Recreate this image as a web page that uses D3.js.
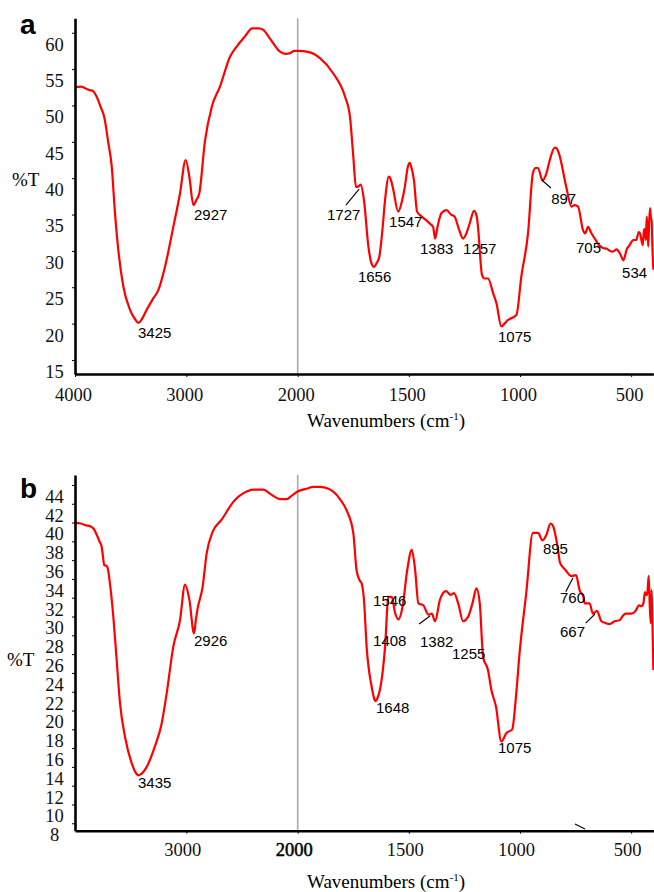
<!DOCTYPE html>
<html>
<head>
<meta charset="utf-8">
<script src="https://cdn.jsdelivr.net/npm/d3@7"></script>
<style>
  body { margin: 0; background: #fff; }
</style>
</head>
<body>
<div id="main"></div>
<script>
// wavenumber (cm-1), %T
const spectrumA = [
  [4000,52.5],[3950,52.6],[3900,52.3],[3865,52.1],[3840,52.0],[3805,51.2],[3770,49.8],[3739,48.5],
  [3700,44.8],[3670,41.6],[3641,35.2],[3611,30.1],[3566,25.1],[3506,21.9],[3460,20.6],[3431,20.1],
  [3400,20.6],[3356,21.9],[3300,23.4],[3252,24.6],[3192,27.8],[3117,33.3],[3057,37.9],[3006,42.5],
  [2973,40.2],[2937,36.3],[2910,37.0],[2884,37.9],[2832,45.2],[2772,49.8],[2698,52.6],[2608,56.7],
  [2548,58.1],[2473,59.5],[2408,60.6],[2350,60.6],[2309,60.4],[2249,59.2],[2159,57.4],[2110,57.1],
  [2069,57.2],[2030,57.5],[2000,57.5],[1945,57.3],[1900,56.5],[1840,54.4],[1787,51.2],[1765,48.5],
  [1750,43.0],[1738,38.8],[1725,38.9],[1717,39.1],[1702,37.0],[1682,30.6],[1667,28.2],[1657,27.8],
  [1645,28.3],[1633,29.2],[1620,32.5],[1607,37.0],[1590,40.2],[1580,39.7],[1570,38.4],[1548,35.4],
  [1530,37.0],[1518,38.8],[1505,41.5],[1496,42.1],[1487,41.3],[1477,39.7],[1463,35.4],[1445,34.8],
  [1421,34.2],[1400,33.6],[1391,33.3],[1382,31.7],[1370,33.5],[1353,35.2],[1331,35.6],[1310,35.0],
  [1294,34.7],[1275,33.0],[1256,31.7],[1240,32.5],[1226,33.8],[1207,35.5],[1195,34.8],[1189,33.3],
  [1171,26.7],[1160,26.2],[1144,26.2],[1121,24.2],[1106,22.8],[1084,19.6],[1070,20.0],[1054,20.5],
  [1035,20.8],[1016,21.2],[994,26.5],[964,32.4],[942,40.7],[930,41.4],[919,41.4],[899,39.7],
  [881,40.7],[866,42.5],[844,44.2],[835,44.1],[825,43.4],[792,38.8],[769,36.1],[755,36.3],
  [739,36.1],[717,32.9],[707,32.4],[694,33.3],[680,32.5],[664,31.7],[645,30.8],[627,30.4],
  [610,30.3],[595,30.0],[582,29.9],[565,30.2],[550,29.6],[535,28.7],[520,30.2],[507,30.8],
  [490,31.5],[477,31.5],[466,32.6],[460,32.4],[448,30.8],[442,33.0],[438,32.9],[434,31.5],
  [430,34.7],[426,32.5],[423,30.6],[419,34.0],[415,35.9],[411,34.5],[408,34.2],[404,30.0],[400,27.4]
];

const spectrumB = [
  [4000,40.0],[3950,39.9],[3900,39.7],[3865,39.6],[3830,39.3],[3805,38.7],[3780,38.0],[3760,37.4],
  [3745,36.0],[3739,35.5],[3720,35.4],[3710,35.3],[3686,33.5],[3656,30.0],[3626,25.4],[3596,20.8],
  [3551,17.2],[3491,14.4],[3450,13.3],[3430,13.1],[3410,13.2],[3356,14.0],[3282,16.2],[3222,18.6],
  [3177,21.8],[3117,26.8],[3057,29.6],[3012,33.4],[2973,31.8],[2931,28.2],[2915,29.6],[2901,30.7],
  [2853,33.2],[2818,36.7],[2764,39.0],[2683,40.3],[2578,42.2],[2458,43.3],[2400,43.5],[2309,43.5],
  [2240,43.0],[2159,42.5],[2099,42.5],[2050,42.9],[2000,43.3],[1960,43.6],[1930,43.8],[1900,43.8],
  [1862,43.6],[1840,43.3],[1810,42.5],[1780,41.3],[1750,38.9],[1735,34.9],[1720,33.8],[1712,33.5],
  [1702,31.8],[1690,26.8],[1667,22.5],[1655,21.2],[1648,21.0],[1640,21.4],[1630,22.2],[1607,26.8],
  [1592,32.1],[1577,32.1],[1562,30.4],[1547,29.7],[1528,31.1],[1507,35.0],[1487,37.1],[1472,35.0],
  [1457,31.4],[1435,31.2],[1412,30.2],[1397,30.3],[1382,29.5],[1360,31.8],[1333,32.7],[1312,32.3],
  [1297,32.5],[1278,31.4],[1256,29.5],[1233,30.0],[1214,31.4],[1196,33.0],[1181,31.4],[1166,25.7],
  [1144,24.3],[1129,22.2],[1108,20.4],[1084,16.7],[1061,17.6],[1035,18.0],[1017,21.8],[1002,26.1],
  [972,32.5],[942,38.9],[919,38.9],[899,38.1],[881,38.7],[863,39.9],[851,39.6],[829,37.1],
  [820,35.7],[797,35.0],[769,34.3],[748,34.4],[732,32.8],[715,32.1],[709,31.4],[687,31.4],
  [672,30.3],[654,30.6],[634,29.5],[615,29.3],[597,29.2],[575,29.5],[552,29.6],[540,30.0],
  [525,30.3],[499,30.3],[480,30.6],[465,31.2],[454,31.1],[445,31.4],[438,32.6],[432,32.3],
  [428,32.3],[424,33.5],[421,34.3],[416,31.0],[412,29.3],[408,32.8],[404,29.0],[400,24.3]
];

// peak label text, with its left/baseline anchor in data units [wn, %T]
const peaksA = [
  ["3425",3434,18.0],["2927",2931,34.25],["1727",1868,34.25],["1656",1729,25.7],
  ["1547",1589,33.3],["1383",1450,29.6],["1257",1256,29.6],["1075",1099,17.5],
  ["897",860,36.4],["705",748,29.7],["534",541,26.3]
];
const peaksB = [
  ["3435",3434,11.76],["2926",2931,26.87],["1546",1661,31.12],["1408",1661,26.87],
  ["1382",1450,26.76],["1255",1306,25.48],["1648",1648,19.74],["1075",1099,15.48],
  ["895",897,36.66],["760",820,31.44],["667",820,27.83]
];
// leader lines [wn1, %T1, wn2, %T2]
const leadersA = [[1783,36.3,1724,38.5],[902,39.75,861,38.65]];
const leadersB = [[1454,29.2,1405,30.06],[794,32.65,762,34.1],[704.5,29.3,662.6,30.27],[752.6,7.93,707.6,7.39]];

const ticksA = [60,55,50,45,40,35,30,25,20,15];
const ticksB = d3.range(44, 7, -2);
const xTicksA = [4000,3000,2000,1500,1000,500];
const xTicksB = [3000,2000,1500,1000,500];

const width = 654, height = 892;
const serif = "'Liberation Serif', 'Times New Roman', serif";
const sans = "'Liberation Sans', Arial, sans-serif";

const svg = d3.select("#main").append("svg")
  .attr("width", width).attr("height", height);

// FTIR x axis: 2x expanded below 2000 cm-1
const x = d3.scaleLinear().domain([4000, 2000, 400]).range([75, 297.7, 653.4]);

function panel(cfg) {
  const y = d3.scaleLinear().domain(cfg.yDomain).range(cfg.yRange);
  const g = svg.append("g");
  const base = cfg.yRange[0];

  // gray divider at 2000
  g.append("line")
    .attr("x1", x(2000)).attr("x2", x(2000))
    .attr("y1", cfg.yRange[1]).attr("y2", base)
    .attr("stroke", "#aaa").attr("stroke-width", 1.6);

  const line = d3.line().x(d => x(d[0])).y(d => y(d[1])).curve(d3.curveMonotoneX);
  g.append("path").datum(cfg.data)
    .attr("d", line)
    .attr("fill", "none")
    .attr("stroke", "#ff0000")
    .attr("stroke-width", 2.2)
    .attr("stroke-linejoin", "round");

  const yAxis = g.append("g")
    .attr("transform", "translate(75,0)")
    .call(d3.axisLeft(y).tickValues(cfg.yTicks).tickSize(3).tickSizeOuter(0));
  yAxis.select(".domain").attr("stroke-width", 2.6);
  yAxis.selectAll("text")
    .style("font-family", serif)
    .style("font-size", "18.5px")
    .attr("text-anchor", "middle")
    .attr("x", -20.5)
    .attr("y", 11.5)
    .attr("fill", "#111");

  const xAxis = g.append("g")
    .attr("transform", `translate(0,${base})`)
    .call(d3.axisBottom(x).tickValues(cfg.xTicks).tickFormat(d3.format("d")).tickSize(3).tickSizeOuter(0));
  xAxis.select(".domain").attr("stroke-width", 2.6);
  xAxis.selectAll("text")
    .style("font-family", serif)
    .style("font-size", "18.5px")
    .attr("y", cfg.xLabelY)
    .attr("dx", cfg.xLabelDx)
    .attr("fill", d => (cfg.darkTick === d ? "#000" : "#111"))
    .attr("stroke", d => (cfg.darkTick === d ? "#000" : "none"))
    .attr("stroke-width", 0.5);

  // axis titles
  const title = g.append("text")
    .attr("x", 386).attr("y", cfg.titleY)
    .attr("text-anchor", "middle")
    .style("font-family", serif)
    .style("font-size", "19px");
  title.append("tspan").text("Wavenumbers (cm");
  title.append("tspan").text("-1").attr("dy", -7).style("font-size", "11px");
  title.append("tspan").text(")").attr("dy", 7);

  g.append("text")
    .attr("x", cfg.pctX).attr("y", cfg.pctY)
    .style("font-family", serif)
    .style("font-size", "19px")
    .text("%T");

  g.append("text")
    .attr("x", 20).attr("y", cfg.letterY)
    .style("font-family", sans)
    .style("font-weight", "bold")
    .style("font-size", "28px")
    .text(cfg.letter);

  g.selectAll(".peak").data(cfg.peaks).enter()
    .append("text").attr("class", "peak")
    .style("font-family", sans)
    .style("font-size", "15px")
    .attr("x", d => x(d[1])).attr("y", d => y(d[2]))
    .text(d => d[0]);

  g.selectAll(".leader").data(cfg.leaders).enter()
    .append("line")
    .attr("x1", d => x(d[0])).attr("y1", d => y(d[1]))
    .attr("x2", d => x(d[2])).attr("y2", d => y(d[3]))
    .attr("stroke", "#000").attr("stroke-width", 1.1);
}

panel({
  data: spectrumA, yDomain: [13.07, 62], yRange: [374, 18.2], yTicks: ticksA,
  xTicks: xTicksA, xLabelY: 14, xLabelDx: -2, titleY: 427, pctX: 12, pctY: 186,
  letter: "a", letterY: 34, peaks: peaksA, leaders: leadersA
});

panel({
  data: spectrumB, yDomain: [7.21, 45.06], yRange: [830.7, 475], yTicks: ticksB,
  xTicks: xTicksB, xLabelY: 12.5, xLabelDx: -4, titleY: 888, pctX: 7, pctY: 666,
  letter: "b", letterY: 498, peaks: peaksB, leaders: leadersB, darkTick: 2000
});
</script>
</body>
</html>
